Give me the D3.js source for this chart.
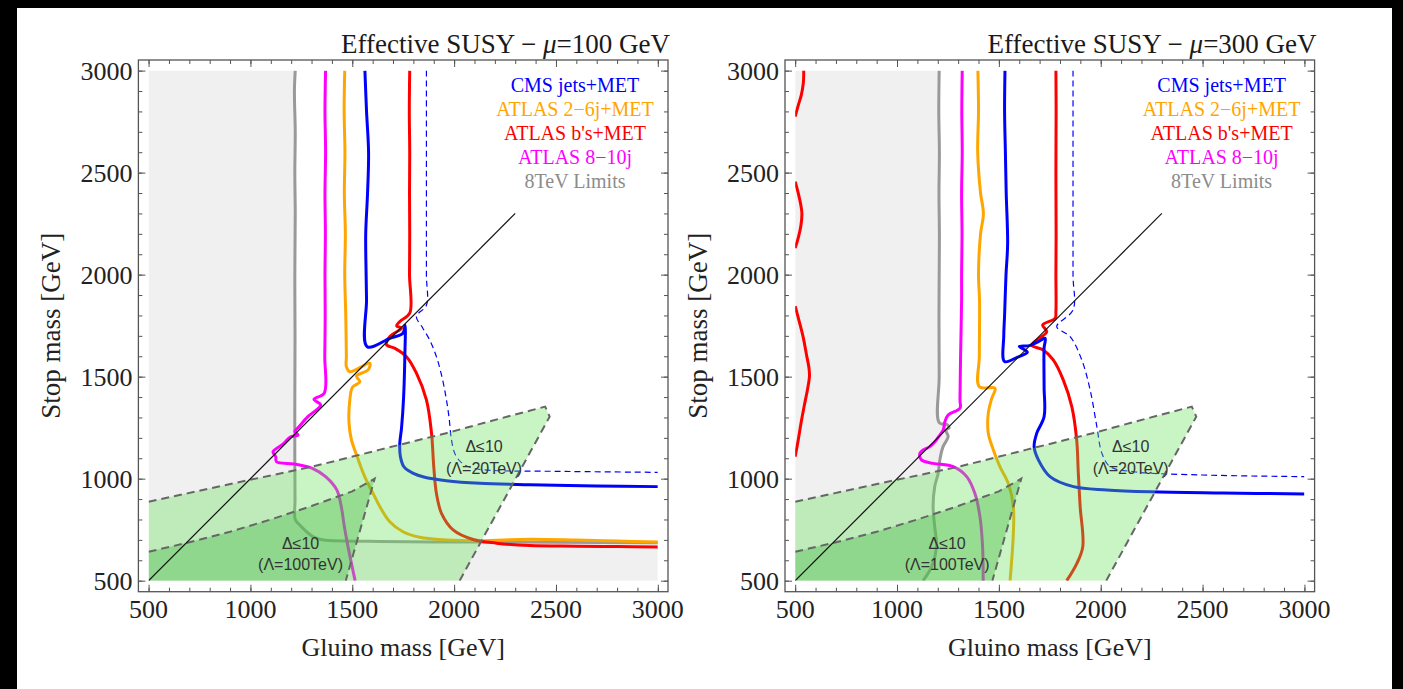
<!DOCTYPE html>
<html>
<head>
<meta charset="utf-8">
<script src="https://cdn.jsdelivr.net/npm/d3@7"></script>
<style>
  body { margin: 0; background: #fff; }
  svg { display: block; }
</style>
</head>
<body>
<script>
// ---- values (GeV) ----
const xTicks = [500, 1000, 1500, 2000, 2500, 3000];
const yTicks = [500, 1000, 1500, 2000, 2500, 3000];
const minorTicks = [500, 600, 700, 800, 900, 1000, 1100, 1200, 1300, 1400, 1500, 1600, 1700, 1800, 1900,
  2000, 2100, 2200, 2300, 2400, 2500, 2600, 2700, 2800, 2900, 3000];
const muValues = [100, 300];
const legendNames = ["CMS jets+MET", "ATLAS 2−6j+MET", "ATLAS b's+MET", "ATLAS 8−10j", "8TeV Limits"];

// mu = 100 GeV
const gray100 = [[1220,3000],[1216,2900],[1220,2700],[1218,2500],[1220,2300],[1218,2000],[1219,1700],[1218,1400],
  [1218,1100],[1219,900],[1220,800],[1240,775],[1270,745],[1306,716],[1345,702],[1390,697],[1635,692],[1900,690],
  [2150,690],[2500,688],[3000,686]];
const magenta100 = [[1369,3000],[1366,2800],[1369,2600],[1366,2400],[1368,2200],[1366,2000],[1367,1800],[1365,1600],
  [1362,1419],[1312,1389],[1345,1361],[1282,1304],[1236,1252],[1218,1232],[1234,1214],[1194,1203],[1161,1170],
  [1111,1132],[1124,1108],[1128,1083],[1216,1072],[1304,1051],[1369,1010],[1424,945],[1446,863],[1461,765],
  [1479,667],[1514,500]];
const orange100 = [[1463,3000],[1460,2800],[1464,2600],[1461,2400],[1466,2200],[1463,2000],[1468,1800],[1471,1600],
  [1471,1549],[1488,1524],[1586,1566],[1578,1533],[1521,1503],[1537,1475],[1501,1448],[1488,1386],[1484,1272],
  [1496,1190],[1524,1108],[1561,1010],[1602,928],[1635,863],[1684,789],[1749,740],[1831,713],[1962,700],
  [2126,696],[2371,703],[2600,699],[2800,694],[3000,690]];
const red100 = [[1782,3000],[1780,2800],[1782,2600],[1781,2400],[1782,2200],[1781,2000],[1782,1811],[1735,1772],
  [1718,1748],[1742,1738],[1686,1698],[1668,1657],[1709,1639],[1766,1598],[1815,1517],[1864,1386],[1889,1223],
  [1900,1059],[1913,928],[1938,830],[1995,749],[2093,702],[2208,684],[2371,672],[2600,669],[2800,667],[3000,665]];
const blue100 = [[1562,3000],[1570,2800],[1580,2600],[1575,2400],[1566,2200],[1568,2000],[1570,1875],[1573,1647],
  [1684,1688],[1749,1713],[1759,1752],[1758,1600],[1752,1400],[1742,1250],[1733,1170],[1736,1110],[1753,1059],
  [1800,1026],[1851,1008],[1962,990],[2126,977],[2371,970],[2700,964],[3000,961]];
const blueDash100 = [[1864,3000],[1864,2500],[1864,2000],[1864,1850],[1815,1795],[1845,1740],[1880,1680],
  [1913,1598],[1940,1500],[1960,1400],[1975,1300],[1987,1190],[2005,1120],[2040,1075],[2100,1050],[2200,1040],
  [2500,1036],[3000,1031]];

// mu = 300 GeV
const gray300 = [[1207,3000],[1205,2800],[1208,2600],[1206,2400],[1208,2200],[1207,2000],[1206,1800],[1207,1500],
  [1207,1275],[1245,1265],[1256,1250],[1240,1238],[1251,1206],[1226,1157],[1210,1092],[1202,1026],[1185,961],
  [1177,863],[1185,765],[1194,667],[1170,569],[1128,500]];
const magenta300 = [[1320,3000],[1318,2800],[1320,2600],[1317,2400],[1319,2200],[1317,2000],[1317,1876],[1312,1600],
  [1309,1386],[1309,1345],[1251,1312],[1235,1279],[1227,1239],[1210,1214],[1186,1181],[1161,1157],[1128,1141],
  [1112,1124],[1120,1092],[1177,1075],[1276,1059],[1342,1010],[1382,928],[1407,814],[1420,667],[1423,500]];
const orange300 = [[1397,3000],[1400,2800],[1396,2600],[1410,2400],[1424,2300],[1410,2200],[1400,2000],[1405,1876],
  [1404,1600],[1404,1451],[1481,1443],[1465,1394],[1448,1321],[1448,1223],[1473,1141],[1505,1059],[1546,977],
  [1571,863],[1571,732],[1555,500]];
const red300 = [[1780,3000],[1781,2800],[1780,2500],[1781,2200],[1780,2000],[1780,1819],[1776,1786],[1715,1753],
  [1735,1720],[1661,1655],[1718,1631],[1767,1582],[1816,1484],[1858,1353],[1882,1190],[1890,1026],[1899,863],
  [1912,667],[1883,585],[1833,500]];
const red300a = [[500,2775],[515,2830],[530,2880],[540,2940],[542,3000]];
const red300b = [[500,2456],[515,2400],[528,2340],[533,2300],[528,2240],[515,2180],[500,2130]];
const red300c = [[500,1845],[520,1770],[540,1690],[555,1610],[568,1540],[570,1500],[560,1435],[545,1360],
  [530,1280],[515,1190],[500,1108]];
const blue300 = [[1530,3000],[1528,2800],[1532,2600],[1536,2400],[1543,2150],[1535,2000],[1528,1800],[1524,1700],
  [1528,1574],[1590,1595],[1640,1620],[1600,1648],[1650,1652],[1694,1672],[1727,1688],[1722,1640],[1722,1450],
  [1722,1304],[1686,1223],[1673,1157],[1694,1092],[1751,1010],[1866,961],[2030,945],[2243,936],[2600,930],[3000,925]];
const blueDash300 = [[1864,3000],[1864,2500],[1864,2000],[1864,1827],[1784,1745],[1850,1696],[1907,1582],
  [1948,1435],[1981,1255],[2006,1124],[2046,1059],[2161,1034],[2500,1018],[3000,1010]];

// shared by both panels
const diagonal = [[500,500],[2300,2300]];
const tuningLight = [[500,500],[500,887],[690,928],[997,994],[1304,1059],[1632,1141],[1961,1223],[2290,1312],
  [2447,1353],[2469,1304],[2027,500]];
const tuningDark = [[500,500],[500,642],[700,688],[900,740],[1100,800],[1300,866],[1500,938],[1610,1000],[1468,500]];
const tuningLabels = [
  {x: 2147, y: 1160, text: "Δ≤10"}, {x: 2147, y: 1052, text: "(Λ=20TeV)"},
  {x: 1246, y: 684, text: "Δ≤10"}, {x: 1246, y: 581, text: "(Λ=100TeV)"}
];

const W = 1403, H = 689;
const serif = "'Liberation Serif', 'Times New Roman', serif";
const sans = "'Liberation Sans', Arial, sans-serif";
const col = { blue: "#0000ff", orange: "#ffa500", red: "#ff0000", magenta: "#ff00ff", gray: "#999999" };
const legendColors = [col.blue, col.orange, col.red, col.magenta, "#8c8c8c"];

const svg = d3.select("body").append("svg").attr("width", W).attr("height", H);
svg.append("rect").attr("width", W).attr("height", H).attr("fill", "#fff");
svg.append("rect").attr("x", 0).attr("y", 0).attr("width", W).attr("height", 8).attr("fill", "#000");
svg.append("rect").attr("x", 0).attr("y", 0).attr("width", 17).attr("height", H).attr("fill", "#000");
svg.append("rect").attr("x", 1392).attr("y", 0).attr("width", 11).attr("height", H).attr("fill", "#000");

const panels = [
  { left: 138.4, mu: muValues[0],
    grayFill: [[500,500],[500,3000]].concat(gray100, [[3000,500]]),
    lines: [[gray100, col.gray], [magenta100, col.magenta], [orange100, col.orange], [red100, col.red], [blue100, col.blue]],
    dashed: blueDash100 },
  { left: 785, mu: muValues[1],
    grayFill: [[500,500],[500,3000]].concat(gray300),
    lines: [[gray300, col.gray], [magenta300, col.magenta], [orange300, col.orange], [red300, col.red],
      [red300a, col.red], [red300b, col.red], [red300c, col.red], [blue300, col.blue]],
    dashed: blueDash300 }
];

panels.forEach((p, i) => {
  const x = d3.scaleLinear().domain([450, 3050]).range([p.left, p.left + 529.6]);
  const y = d3.scaleLinear().domain([446, 3052]).range([591.7, 60]);
  const g = svg.append("g");
  const line = d3.line().x(d => x(d[0])).y(d => y(d[1]));
  const smooth = d3.line().x(d => x(d[0])).y(d => y(d[1])).curve(d3.curveCatmullRom.alpha(0.5));

  g.append("clipPath").attr("id", "clip" + i).append("rect")
    .attr("x", x(500)).attr("y", y(3000))
    .attr("width", x(3000) - x(500)).attr("height", y(500) - y(3000));
  const plot = g.append("g").attr("clip-path", `url(#clip${i})`);

  plot.append("path").attr("d", line(p.grayFill) + "Z").attr("fill", "#f0f0f0");

  p.lines.forEach(([pts, c]) => {
    plot.append("path").attr("d", smooth(pts))
      .attr("fill", "none").attr("stroke", c).attr("stroke-width", 3)
      .attr("stroke-linejoin", "round");
  });
  plot.append("path").attr("d", smooth(p.dashed))
    .attr("fill", "none").attr("stroke", col.blue).attr("stroke-width", 1.2)
    .attr("stroke-dasharray", "6,4");

  // naturalness regions on top
  plot.append("path").attr("d", line(tuningLight) + "Z").attr("fill", "rgb(98,226,84)").attr("fill-opacity", 0.35);
  plot.append("path").attr("d", line(tuningDark) + "Z").attr("fill", "rgb(60,180,60)").attr("fill-opacity", 0.36);
  [tuningLight.slice(1), tuningDark.slice(1)].forEach(pts => {
    plot.append("path").attr("d", line(pts))
      .attr("fill", "none").attr("stroke", "#666").attr("stroke-width", 2)
      .attr("stroke-dasharray", "8,5");
  });

  plot.append("path").attr("d", line(diagonal))
    .attr("fill", "none").attr("stroke", "#111").attr("stroke-width", 1.2);

  tuningLabels.forEach(l => {
    g.append("text").attr("x", x(l.x)).attr("y", y(l.y))
      .attr("text-anchor", "middle").attr("dominant-baseline", "central")
      .attr("font-family", sans).attr("font-size", 16).attr("fill", "#333")
      .text(l.text);
  });

  // frame + inward ticks
  const frame = { x0: x(450), x1: x(3050), y0: y(3052), y1: y(446) };
  const tickAxis = (axis, sc, vals, size, tx, ty) => {
    g.append("g").attr("transform", `translate(${tx},${ty})`).attr("color", "#555")
      .call(axis(sc).tickValues(vals).tickSize(size).tickFormat(""))
      .call(s => s.select(".domain").remove());
  };
  tickAxis(d3.axisBottom, x, minorTicks, 4, 0, frame.y0);
  tickAxis(d3.axisBottom, x, xTicks, 7, 0, frame.y0);
  tickAxis(d3.axisTop, x, minorTicks, 4, 0, frame.y1);
  tickAxis(d3.axisTop, x, xTicks, 7, 0, frame.y1);
  tickAxis(d3.axisRight, y, minorTicks, 4, frame.x0, 0);
  tickAxis(d3.axisRight, y, yTicks, 7, frame.x0, 0);
  tickAxis(d3.axisLeft, y, minorTicks, 4, frame.x1, 0);
  tickAxis(d3.axisLeft, y, yTicks, 7, frame.x1, 0);
  g.append("rect").attr("x", frame.x0).attr("y", frame.y0)
    .attr("width", frame.x1 - frame.x0).attr("height", frame.y1 - frame.y0)
    .attr("fill", "none").attr("stroke", "#555").attr("stroke-width", 1.3);

  g.selectAll(".xl").data(xTicks).join("text")
    .attr("x", d => x(d)).attr("y", 618).attr("text-anchor", "middle")
    .attr("font-family", serif).attr("font-size", 26).attr("fill", "#222").text(d => d);
  g.selectAll(".yl").data(yTicks).join("text")
    .attr("x", frame.x0 - 6).attr("y", d => y(d) + 9).attr("text-anchor", "end")
    .attr("font-family", serif).attr("font-size", 26).attr("fill", "#222").text(d => d);

  g.append("text").attr("x", (frame.x0 + frame.x1) / 2).attr("y", 656)
    .attr("text-anchor", "middle").attr("font-family", serif).attr("font-size", 26).attr("fill", "#222")
    .text("Gluino mass [GeV]");
  g.append("text").attr("transform", `translate(${frame.x0 - 78},${(frame.y0 + frame.y1) / 2}) rotate(-90)`)
    .attr("text-anchor", "middle").attr("font-family", serif).attr("font-size", 27).attr("fill", "#222")
    .text("Stop mass [GeV]");

  const t = g.append("text").attr("x", frame.x1 + 2).attr("y", 53).attr("text-anchor", "end")
    .attr("font-family", serif).attr("font-size", 27).attr("fill", "#1a1a1a");
  t.append("tspan").text("Effective SUSY − ");
  t.append("tspan").attr("font-style", "italic").text("μ");
  t.append("tspan").text("=" + p.mu + " GeV");

  legendNames.forEach((name, k) => {
    g.append("text").attr("x", frame.x1 - 93).attr("y", 91.5 + 24 * k)
      .attr("text-anchor", "middle").attr("font-family", serif).attr("font-size", 20)
      .attr("fill", legendColors[k]).text(name);
  });
});
</script>
</body>
</html>
